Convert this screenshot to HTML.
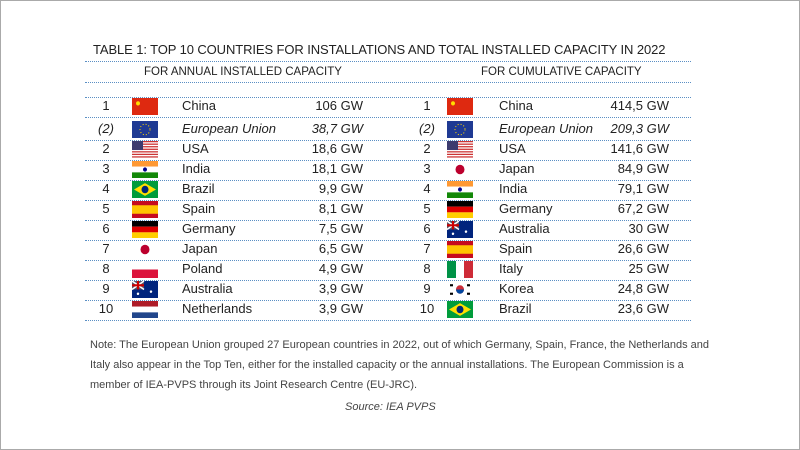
<!DOCTYPE html><html><head><style>
body{margin:0;width:800px;height:450px;background:#fff;position:relative;overflow:hidden;font-family:"Liberation Sans",sans-serif;color:#222}
.b{position:absolute;left:0;top:0;width:798px;height:448px;border:1px solid #aaa}
.t{position:absolute;white-space:nowrap;font-size:13px;letter-spacing:0}
.l{position:absolute;left:85px;width:606px;border-top:1px dotted #5b8fc4}
.f{position:absolute;width:26px;height:17px}
</style></head><body><div class="b"></div>
<div class="t" style="left:93px;top:42px;font-size:13px;letter-spacing:-0.1px">TABLE 1: TOP 10 COUNTRIES FOR INSTALLATIONS AND TOTAL INSTALLED CAPACITY IN 2022</div>
<div class="l" style="top:61px"></div>
<div class="t" style="left:144px;top:66px;font-size:11.5px">FOR ANNUAL INSTALLED CAPACITY</div>
<div class="t" style="left:481px;top:66px;font-size:11.5px">FOR CUMULATIVE CAPACITY</div>
<div class="l" style="top:82px"></div>
<div class="l" style="top:97px"></div>
<div id="rows"></div>
<div class="t" style="left:90px;top:335px;font-size:11px;letter-spacing:0;color:#444;line-height:20px">Note: The European Union grouped 27 European countries in 2022, out of which Germany, Spain, France, the Netherlands and<br>Italy also appear in the Top Ten, either for the installed capacity or the annual installations. The European Commission is a<br>member of IEA-PVPS through its Joint Research Centre (EU-JRC).</div>
<div class="t" style="left:345px;top:401px;font-size:11px;letter-spacing:0;color:#444;font-style:italic">Source: IEA PVPS</div>
<script>
const F={
cn:'<rect width="26" height="16" fill="#de2910"/><circle cx="6" cy="5" r="2" fill="#ffde00"/>',
eu:'<rect width="26" height="16" fill="#1f3a93"/><circle cx="13" cy="8" r="5" fill="none" stroke="#ffd700" stroke-dasharray="1 2"/>',
us:'<rect width="26" height="16" fill="#fff"/><g fill="#c33">'+[0,2.4,4.8,7.2,9.6,12,14.4].map(y=>`<rect y="${y}" width="26" height="1.2"/>`).join('')+'</g><rect width="11" height="8.5" fill="#3c3b6e"/>',
in:'<rect width="26" height="5.3" fill="#f93"/><rect y="5.3" width="26" height="5.4" fill="#fff"/><rect y="10.7" width="26" height="5.3" fill="#138808"/><circle cx="13" cy="8" r="2" fill="#008"/>',
br:'<rect width="26" height="16" fill="#009c3b"/><polygon points="13,2 24,8 13,14 2,8" fill="#ffdf00"/><circle cx="13" cy="8" r="3.5" fill="#002776"/>',
es:'<rect width="26" height="16" fill="#c60b1e"/><rect y="4" width="26" height="8" fill="#ffc400"/>',
de:'<rect width="26" height="5.3" fill="#000"/><rect y="5.3" width="26" height="5.4" fill="#d00"/><rect y="10.7" width="26" height="5.3" fill="#ffce00"/>',
jp:'<rect width="26" height="16" fill="#fff"/><circle cx="13" cy="8" r="4.5" fill="#bc002d"/>',
pl:'<rect width="26" height="8" fill="#fff"/><rect y="8" width="26" height="8" fill="#dc143c"/>',
au:'<rect width="26" height="16" fill="#00247d"/><rect width="12" height="8" fill="#556"/><path d="M0 0L12 8M12 0L0 8" stroke="#fff" stroke-width="1.5"/><path d="M6 0V8M0 4H12" stroke="#c00" stroke-width="2"/><circle cx="19" cy="10" r="1.2" fill="#fff"/><circle cx="6" cy="12" r="1.2" fill="#fff"/>',
nl:'<rect width="26" height="5.3" fill="#ae1c28"/><rect y="5.3" width="26" height="5.4" fill="#fff"/><rect y="10.7" width="26" height="5.3" fill="#21468b"/>',
it:'<rect width="9" height="16" fill="#009246"/><rect x="9" width="8" height="16" fill="#fff"/><rect x="17" width="9" height="16" fill="#ce2b37"/>',
kr:'<rect width="26" height="16" fill="#fff"/><circle cx="13" cy="8" r="4" fill="#cd2e3a"/><path d="M9 8a4 4 0 0 0 8 0z" fill="#0047a0"/><g fill="#000"><rect x="3" y="3" width="3" height="2"/><rect x="20" y="3" width="3" height="2"/><rect x="3" y="11" width="3" height="2"/><rect x="20" y="11" width="3" height="2"/></g>'};
const L=[['1','cn','China','106 GW'],['(2)','eu','European Union','38,7 GW'],['2','us','USA','18,6 GW'],['3','in','India','18,1 GW'],['4','br','Brazil','9,9 GW'],['5','es','Spain','8,1 GW'],['6','de','Germany','7,5 GW'],['7','jp','Japan','6,5 GW'],['8','pl','Poland','4,9 GW'],['9','au','Australia','3,9 GW'],['10','nl','Netherlands','3,9 GW']];
const R=[['1','cn','China','414,5 GW'],['(2)','eu','European Union','209,3 GW'],['2','us','USA','141,6 GW'],['3','jp','Japan','84,9 GW'],['4','in','India','79,1 GW'],['5','de','Germany','67,2 GW'],['6','au','Australia','30 GW'],['7','es','Spain','26,6 GW'],['8','it','Italy','25 GW'],['9','kr','Korea','24,8 GW'],['10','br','Brazil','23,6 GW']];
let h='';
for(let k=0;k<11;k++){
 const y=k==0?106:109+20*k;
 const it=k==1;
 [[L[k],106,132,182,363],[R[k],427,447,499,669]].forEach(([d,rx,fx,nx,vx])=>{
  const s=it?'font-style:italic;':'';
  h+=`<div class="t" style="${s}left:${rx-20}px;width:40px;text-align:center;top:${y-8}px">${d[0]}</div>`;
  h+=`<svg class="f" style="left:${fx}px;top:${y-8}px" viewBox="0 0 26 16" preserveAspectRatio="none">${F[d[1]]}</svg>`;
  h+=`<div class="t" style="${s}left:${nx}px;top:${y-8}px">${d[2]}</div>`;
  h+=`<div class="t" style="${s}left:${vx-100}px;width:100px;text-align:right;top:${y-8}px">${d[3]}</div>`;
 });
 h+=`<div class="l" style="top:${y+11}px"></div>`;
}
document.getElementById('rows').innerHTML=h;
</script></body></html>
